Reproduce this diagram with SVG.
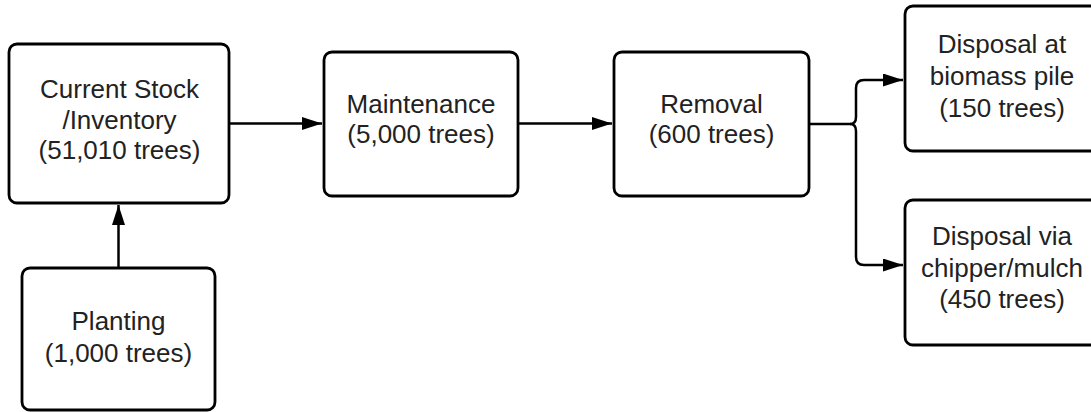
<svg xmlns="http://www.w3.org/2000/svg" width="1091" height="412" viewBox="0 0 1091 412">
  <defs>
    <marker id="arrow" markerUnits="userSpaceOnUse" markerWidth="21" markerHeight="14" refX="20" refY="6.5" orient="auto">
      <path d="M0,0 L20,6.5 L0,13 z" fill="#000"/>
    </marker>
    <style>
      .box { fill: #fff; stroke: #000; stroke-width: 2.8; }
      .lbl { font-family: "Liberation Sans", Arial, sans-serif; font-size: 26px; fill: #222; text-anchor: middle; }
      .conn { fill: none; stroke: #000; stroke-width: 2.5; }
    </style>
  </defs>
  <rect width="1091" height="412" fill="#fff"/>

  <g id="connectors">
    <path class="conn" d="M229,123.5 H322" marker-end="url(#arrow)"/>
    <path class="conn" d="M518,123.5 H612" marker-end="url(#arrow)"/>
    <path class="conn" d="M118.5,268 V205" marker-end="url(#arrow)"/>
    <path class="conn" d="M809,124 H850 Q856,124 856,117 V88 Q856,80 864,80 H903" marker-end="url(#arrow)"/>
    <path class="conn" d="M850,124 Q856,124 856,131 V257 Q856,265 864,265 H903" marker-end="url(#arrow)"/>
  </g>

  <g id="current-stock">
    <rect class="box" x="9" y="44" width="220" height="159" rx="8"/>
    <text class="lbl" x="119.5" y="98">Current Stock</text>
    <text class="lbl" x="119.5" y="128.5">/Inventory</text>
    <text class="lbl" x="119.5" y="159">(51,010 trees)</text>
  </g>

  <g id="maintenance">
    <rect class="box" x="324" y="52" width="194" height="144" rx="8"/>
    <text class="lbl" x="421" y="112.5">Maintenance</text>
    <text class="lbl" x="421" y="142.5">(5,000 trees)</text>
  </g>

  <g id="removal">
    <rect class="box" x="614" y="52" width="195" height="144" rx="8"/>
    <text class="lbl" x="711.5" y="112.5">Removal</text>
    <text class="lbl" x="711.5" y="143">(600 trees)</text>
  </g>

  <g id="planting">
    <rect class="box" x="22" y="268" width="193" height="142" rx="8"/>
    <text class="lbl" x="118.5" y="329.5">Planting</text>
    <text class="lbl" x="118.5" y="361.5">(1,000 trees)</text>
  </g>

  <g id="disposal-biomass">
    <rect class="box" x="905" y="6" width="196" height="145" rx="8"/>
    <text class="lbl" x="1002" y="53">Disposal at</text>
    <text class="lbl" x="1002" y="85">biomass pile</text>
    <text class="lbl" x="1002" y="116.5">(150 trees)</text>
  </g>

  <g id="disposal-chipper">
    <rect class="box" x="905" y="200" width="196" height="145" rx="8"/>
    <text class="lbl" x="1002" y="245">Disposal via</text>
    <text class="lbl" x="1002" y="276.5">chipper/mulch</text>
    <text class="lbl" x="1002" y="308">(450 trees)</text>
  </g>
</svg>
